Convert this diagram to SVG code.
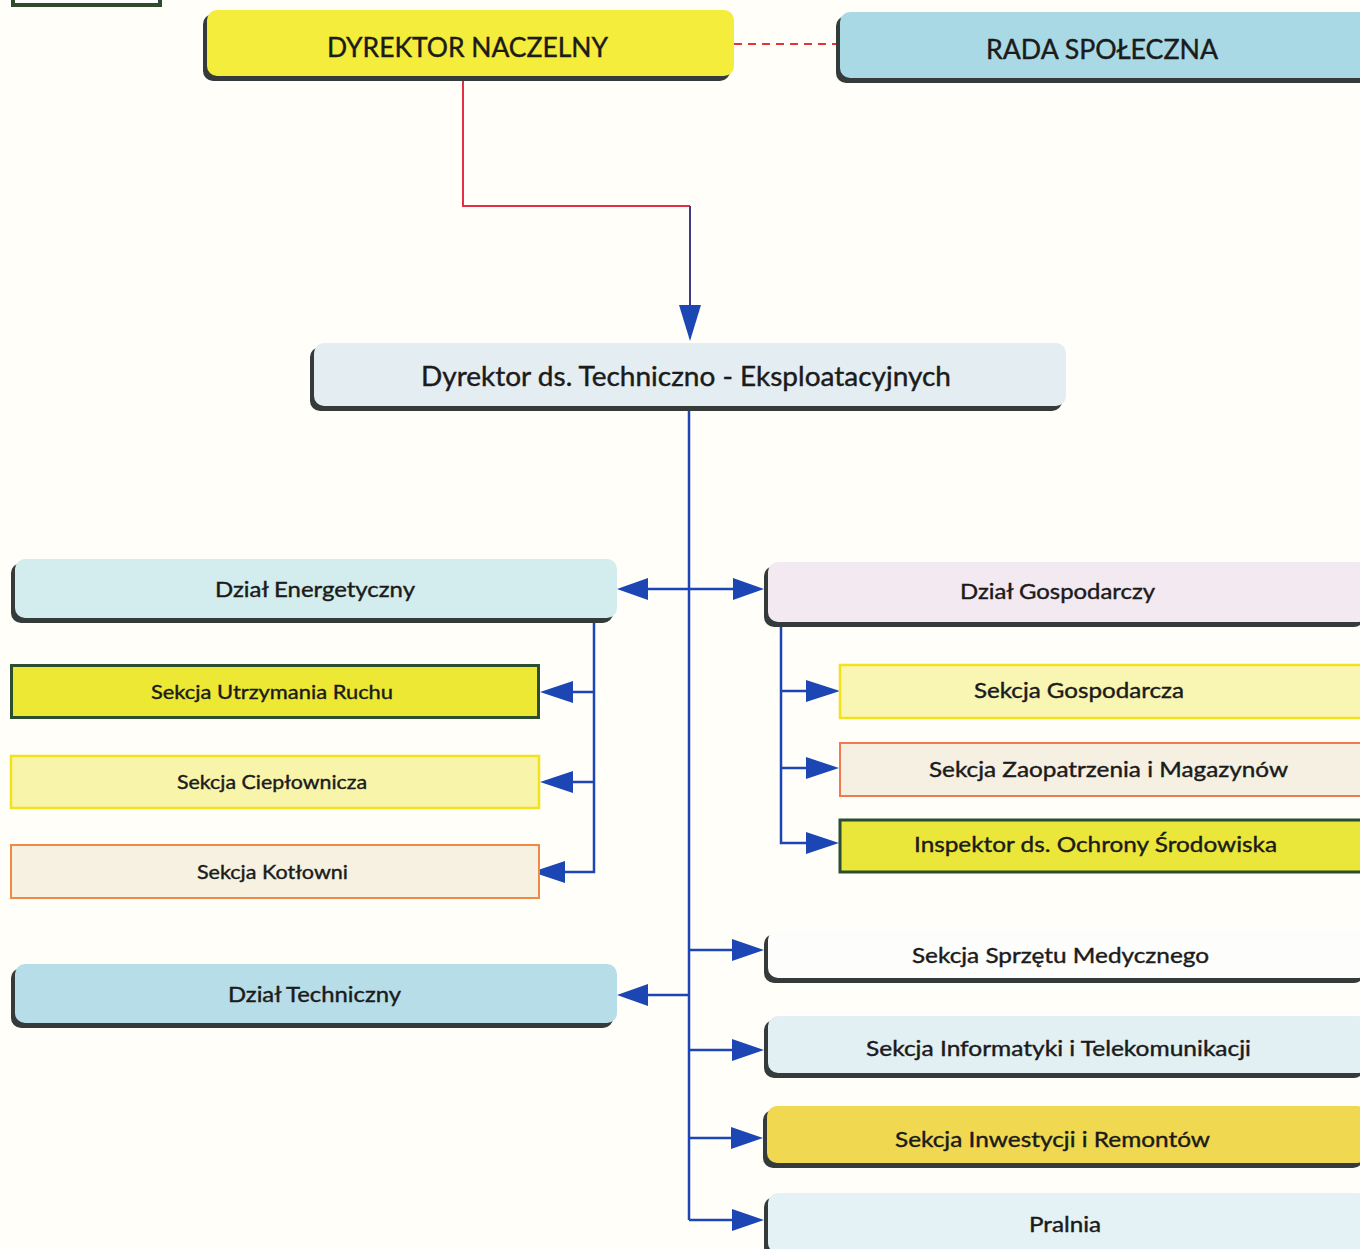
<svg xmlns="http://www.w3.org/2000/svg" width="1360" height="1249" viewBox="0 0 1360 1249">
<style>
text{font-family:Lato,"Open Sans","Liberation Sans",sans-serif;fill:#1b1b1b;stroke:#1b1b1b;stroke-width:0.4;text-anchor:middle}
.big{font-size:26px}
.mid{font-size:21px}
.sm{font-size:20px}
.sh{fill:#343b3a}
.ln{fill:none;stroke:#1c46b4;stroke-width:2.5}
.ar{fill:#1c46b4}
</style>
<rect x="0" y="0" width="1360" height="1249" fill="#fffef8"/>
<g id="corner-box"><rect x="13" y="-10" width="147" height="15" fill="#ffffff" stroke="#2e4b2e" stroke-width="4"/></g>

<g id="connectors">
<line x1="734" y1="44" x2="836" y2="44" stroke="#e43535" stroke-width="2" stroke-dasharray="8,6"/>
<path d="M463,80 V206 H690" fill="none" stroke="#e43040" stroke-width="2"/>
<path d="M690,206 V310" fill="none" stroke="#3a3a8a" stroke-width="2"/>
<polygon class="ar" points="679,305 701,305 690,341"/>
<path class="ln" d="M689,410 V1220"/>
<path class="ln" d="M648,589 H733"/>
<polygon class="ar" points="648,578 648,600 617,589"/>
<polygon class="ar" points="733,578 733,600 764,589"/>
<path class="ln" d="M594,622 V872 H565 M594,692 H572 M594,782 H572"/>
<polygon class="ar" points="573,681 573,703 540,692"/>
<polygon class="ar" points="573,771 573,793 540,782"/>
<polygon class="ar" points="565,861 565,883 532,872"/>
<path class="ln" d="M781,626 V843 H806 M781,691 H806 M781,768 H806"/>
<polygon class="ar" points="806,680 806,702 840,691"/>
<polygon class="ar" points="806,757 806,779 839,768"/>
<polygon class="ar" points="806,832 806,854 839,843"/>
<path class="ln" d="M689,950 H732 M689,995 H648 M689,1050 H732 M689,1138 H731 M689,1220 H732"/>
<polygon class="ar" points="732,939 732,961 764,950"/>
<polygon class="ar" points="648,984 648,1006 617,995"/>
<polygon class="ar" points="732,1039 732,1061 764,1050"/>
<polygon class="ar" points="731,1127 731,1149 763,1138"/>
<polygon class="ar" points="732,1209 732,1231 764,1220"/>
</g>

<g id="dyrektor-naczelny">
<rect class="sh" x="203" y="14" width="527" height="67" rx="10"/>
<rect x="207" y="10" width="527" height="66" rx="10" fill="#f5ed3c"/>
<text class="big" x="467.5" y="57" textLength="281" lengthAdjust="spacingAndGlyphs">DYREKTOR NACZELNY</text>
</g>
<g id="rada-spoleczna">
<rect class="sh" x="836" y="16" width="540" height="67" rx="10"/>
<rect x="840" y="12" width="540" height="66" rx="10" fill="#aad9e6"/>
<text class="big" x="1102" y="59" textLength="232" lengthAdjust="spacingAndGlyphs">RADA SPOŁECZNA</text>
</g>
<g id="dyrektor-techniczny">
<rect class="sh" x="310" y="347" width="752" height="64" rx="10"/>
<rect x="314" y="343" width="752" height="63" rx="10" fill="#e4edf1"/>
<text class="big" x="686" y="386" textLength="530" lengthAdjust="spacingAndGlyphs">Dyrektor ds. Techniczno - Eksploatacyjnych</text>
</g>
<g id="dzial-energetyczny">
<rect class="sh" x="11" y="563" width="602" height="60" rx="10"/>
<rect x="15" y="559" width="602" height="59" rx="10" fill="#d3ecee"/>
<text class="mid" x="315" y="597" textLength="200" lengthAdjust="spacingAndGlyphs">Dział Energetyczny</text>
</g>
<g id="dzial-gospodarczy">
<rect class="sh" x="764" y="566" width="600" height="61" rx="10"/>
<rect x="768" y="562" width="600" height="60" rx="10" fill="#f3e9f0"/>
<text class="mid" x="1057.5" y="599" textLength="195" lengthAdjust="spacingAndGlyphs">Dział Gospodarczy</text>
</g>
<g id="sekcja-utrzymania-ruchu">
<rect x="11.5" y="665.5" width="527" height="52" fill="#ece834" stroke="#2b4d30" stroke-width="3"/>
<text class="sm" x="272" y="699" textLength="242" lengthAdjust="spacingAndGlyphs">Sekcja Utrzymania Ruchu</text>
</g>
<g id="sekcja-cieplownicza">
<rect x="11" y="756" width="528" height="52" fill="#f8f4aa" stroke="#f2e21c" stroke-width="2.5"/>
<text class="sm" x="272" y="789" textLength="190" lengthAdjust="spacingAndGlyphs">Sekcja Ciepłownicza</text>
</g>
<g id="sekcja-kotlowni">
<rect x="11" y="845" width="528" height="53" fill="#f6f1e0" stroke="#ef8a45" stroke-width="2"/>
<text class="sm" x="272.5" y="879" textLength="151" lengthAdjust="spacingAndGlyphs">Sekcja Kotłowni</text>
</g>
<g id="sekcja-gospodarcza">
<rect x="840" y="665" width="530" height="53" fill="#f8f6b2" stroke="#f2e21c" stroke-width="2.5"/>
<text class="mid" x="1079" y="698" textLength="210" lengthAdjust="spacingAndGlyphs">Sekcja Gospodarcza</text>
</g>
<g id="sekcja-zaopatrzenia">
<rect x="840" y="743" width="530" height="53" fill="#f5f0e2" stroke="#ef7a50" stroke-width="2"/>
<text class="mid" x="1108.5" y="777" textLength="359" lengthAdjust="spacingAndGlyphs">Sekcja Zaopatrzenia i Magazynów</text>
</g>
<g id="inspektor-ochrony">
<rect x="840" y="820" width="530" height="52" fill="#ebe73a" stroke="#2b4d30" stroke-width="3"/>
<text class="mid" x="1095.5" y="852" textLength="363" lengthAdjust="spacingAndGlyphs">Inspektor ds. Ochrony Środowiska</text>
</g>
<g id="sekcja-sprzetu-medycznego">
<rect class="sh" x="764" y="934" width="600" height="49" rx="10"/>
<rect x="768" y="930" width="600" height="48" rx="10" fill="#fdfdfb"/>
<text class="mid" x="1060.5" y="963" textLength="297" lengthAdjust="spacingAndGlyphs">Sekcja Sprzętu Medycznego</text>
</g>
<g id="dzial-techniczny">
<rect class="sh" x="11" y="968" width="602" height="60" rx="10"/>
<rect x="15" y="964" width="602" height="59" rx="10" fill="#b7dde8"/>
<text class="mid" x="314.5" y="1002" textLength="173" lengthAdjust="spacingAndGlyphs">Dział Techniczny</text>
</g>
<g id="sekcja-informatyki">
<rect class="sh" x="764" y="1020" width="600" height="58" rx="10"/>
<rect x="768" y="1016" width="600" height="57" rx="10" fill="#e2f0f4"/>
<text class="mid" x="1058.5" y="1056" textLength="385" lengthAdjust="spacingAndGlyphs">Sekcja Informatyki i Telekomunikacji</text>
</g>
<g id="sekcja-inwestycji">
<rect class="sh" x="763" y="1110" width="600" height="58" rx="10"/>
<rect x="767" y="1106" width="600" height="57" rx="10" fill="#f0d951"/>
<text class="mid" x="1052.5" y="1147" textLength="315" lengthAdjust="spacingAndGlyphs">Sekcja Inwestycji i Remontów</text>
</g>
<g id="pralnia">
<rect class="sh" x="764" y="1197" width="600" height="60" rx="10"/>
<rect x="768" y="1193" width="600" height="60" rx="10" fill="#e5f2f5"/>
<text class="mid" x="1065" y="1232" textLength="72" lengthAdjust="spacingAndGlyphs">Pralnia</text>
</g>
</svg>
